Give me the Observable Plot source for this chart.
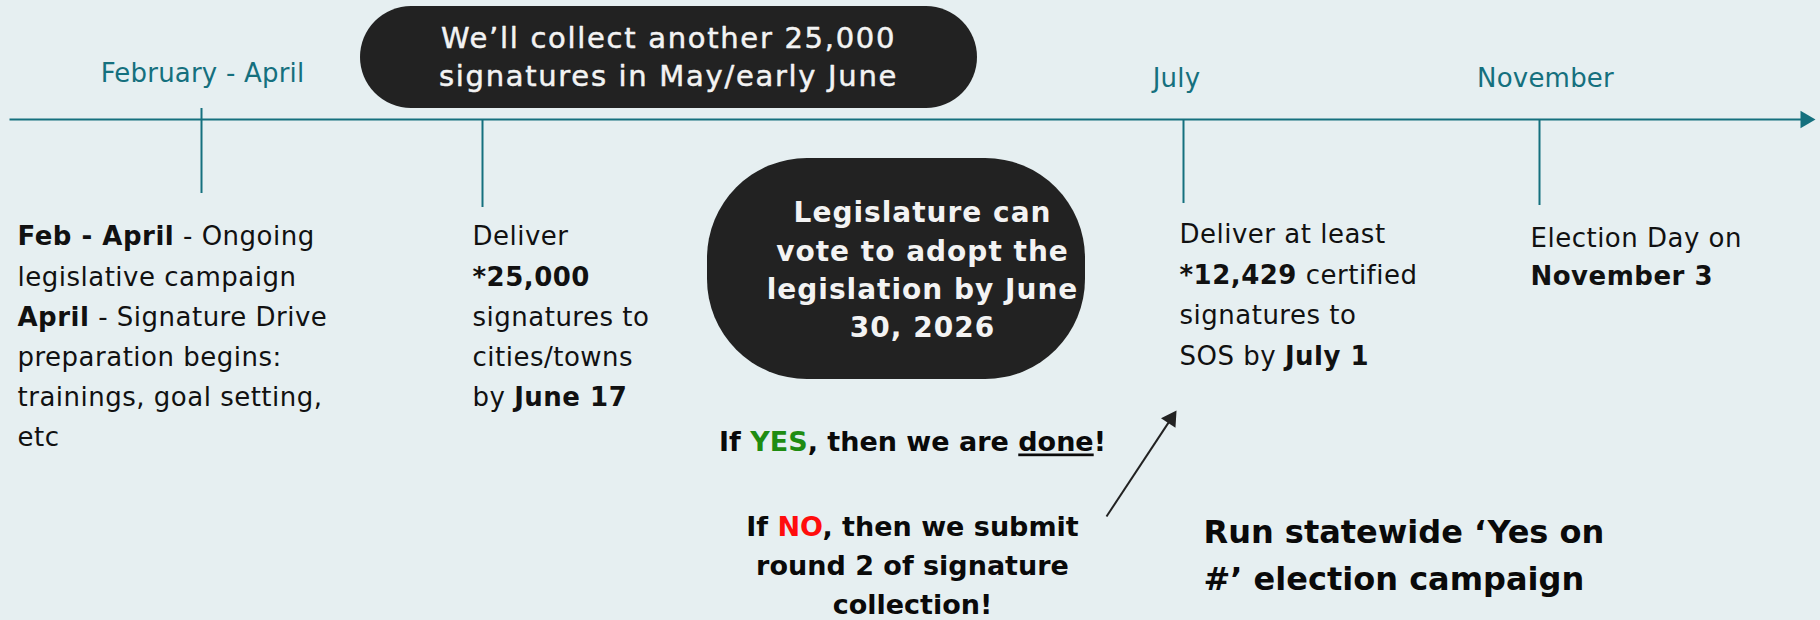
<!DOCTYPE html>
<html><head><meta charset="utf-8">
<script src="https://cdn.jsdelivr.net/npm/d3@7"></script>
<script src="https://cdn.jsdelivr.net/npm/@observablehq/plot@0.6"></script>
<style>
html,body{margin:0;padding:0;background:#e6eff1;}
#chart{width:1820px;height:620px;overflow:hidden}
svg{display:block}
</style></head><body><div id="chart"></div>
<script>
// ---------- data (text content) ----------
const monthLabels = ["February - April", "July", "November"];
const milestoneNotes = [
  "{b:Feb - April} - Ongoing\nlegislative campaign\n{b:April} - Signature Drive\npreparation begins:\ntrainings, goal setting,\netc",
  "Deliver\n{b:*25,000}\nsignatures to\ncities/towns\nby {b:June 17}",
  "Deliver at least\n{b:*12,429} certified\nsignatures to\nSOS by {b:July 1}",
  "Election Day on\n{b:November 3}"
];
const bubbleTexts = [
  "We’ll collect another 25,000\nsignatures in May/early June",
  "Legislature can\nvote to adopt the\nlegislation by {b:June}\n{b:30, 2026}"
];
const outcomeTexts = [
  "If {g:YES}, then we are {u:done}!",
  "If {r:NO}, then we submit\nround 2 of signature\ncollection!"
];
const campaignTexts = ["Run statewide ‘Yes on\n#’ election campaign"];

// ---------- layout (schematic positions, px) ----------
const layout = {
  axis: {x1: 9, x2: 1815, y: 119},
  ticks: {x: [201, 482, 1183, 1539], y1: [108, 119, 119, 119], y2: [193, 207, 203, 205]},
  months: {x: [202, 1176, 1545], base: [81, 86, 86], size: 26},
  notes: {x: [17, 472, 1179, 1530], base: [245, 245, 243, 246.5], size: [26, 26, 26, 26], lh: [40.2, 40.2, 40.5, 37.5]},
  pills: {x1: [360, 707], x2: [977, 1085], y1: [6, 158], y2: [108, 379], r: [51, 100]},
  bubbleText: {x: [668, 922], base: [47.5, 222], size: [29, 28], lh: [38, 38.3], weight: [400, 700]},
  outcomes: {x: [912, 912], base: [451, 536], size: 27, lh: 39},
  campaign: {x: [1203], base: [543], size: 32, lh: 46.5},
  pointer: {x1: 1106, y1: 516, x2: 1176, y2: 410}
};
// letter spacing per text group, in mark order: months, 4 notes, 2 bubbles, 2 outcomes, campaign
const spacing = [0.2, 0.5, 0.5, 0.5, 0.5, 1.7, 1, 0, 0, 0];
const FONT = "DejaVu Sans";
const teal = "#15707e";
const ink = "#111111";
const idx = n => d3.range(n);
// Plot places the first line (lineAnchor top) at 0.71 × lineHeight below y
const topOf = (base, lhPx) => base - 0.71 * lhPx;

function head(x1, y1, x2, y2, len) {
  const dx = x2 - x1, dy = y2 - y1, L = Math.hypot(dx, dy);
  const ux = dx / L, uy = dy / L;
  const h = len / 3;
  return {
    cx: x2 - 2 * h * ux, cy: y2 - 2 * h * uy,
    r: Math.sqrt(h * h * 3 * Math.sqrt(3) / Math.PI),
    rotate: Math.atan2(dx, -dy) * 180 / Math.PI
  };
}
const axisHead = head(layout.axis.x1, layout.axis.y, layout.axis.x2, layout.axis.y, 15);
const ptrHead = head(layout.pointer.x1, layout.pointer.y1, layout.pointer.x2, layout.pointer.y2, 15);

const textMarks = [];
textMarks.push(Plot.text(monthLabels, {
  x: (d, i) => layout.months.x[i], y: (d, i) => topOf(layout.months.base[i], layout.months.size),
  text: d => d, lineAnchor: "top", textAnchor: "middle",
  fontSize: layout.months.size, fontFamily: FONT, fontWeight: 400, fill: teal
}));
milestoneNotes.forEach((t, i) => {
  const L = layout.notes;
  textMarks.push(Plot.text([t], {
    x: () => L.x[i], y: () => topOf(L.base[i], L.lh[i]),
    text: d => d, lineAnchor: "top", textAnchor: "start",
    fontSize: L.size[i], lineHeight: L.lh[i] / L.size[i],
    fontFamily: FONT, fontWeight: 400, fill: ink
  }));
});
bubbleTexts.forEach((t, i) => {
  const L = layout.bubbleText;
  textMarks.push(Plot.text([t], {
    x: () => L.x[i], y: () => topOf(L.base[i], L.lh[i]),
    text: d => d, lineAnchor: "top", textAnchor: "middle",
    fontSize: L.size[i], lineHeight: L.lh[i] / L.size[i],
    fontFamily: FONT, fontWeight: L.weight[i], fill: "#f3f3f3",
    stroke: i === 0 ? "#f3f3f3" : "none", strokeWidth: 0.5
  }));
});
outcomeTexts.forEach((t, i) => {
  const L = layout.outcomes;
  textMarks.push(Plot.text([t], {
    x: () => L.x[i], y: () => topOf(L.base[i], L.lh),
    text: d => d, lineAnchor: "top", textAnchor: "middle",
    fontSize: L.size, lineHeight: L.lh / L.size,
    fontFamily: FONT, fontWeight: 700, fill: "#0a0a0a"
  }));
});
textMarks.push(Plot.text(campaignTexts, {
  x: (d, i) => layout.campaign.x[i], y: (d, i) => topOf(layout.campaign.base[i], layout.campaign.lh),
  text: d => d, lineAnchor: "top", textAnchor: "start",
  fontSize: layout.campaign.size, lineHeight: layout.campaign.lh / layout.campaign.size,
  fontFamily: FONT, fontWeight: 700, fill: "#0a0a0a"
}));

const chart = Plot.plot({
  width: 1820, height: 620,
  margin: 0,
  x: {domain: [0, 1820], range: [0, 1820], axis: null},
  y: {domain: [0, 620], range: [0, 620], axis: null},
  style: {background: "#e6eff1", fontFamily: FONT},
  marks: [
    Plot.link([0], {x1: layout.axis.x1, x2: axisHead.cx, y1: layout.axis.y, y2: layout.axis.y, stroke: teal, strokeWidth: 2.2}),
    Plot.dot([0], {x: axisHead.cx, y: axisHead.cy, r: axisHead.r, symbol: "triangle", rotate: axisHead.rotate, fill: teal, stroke: "none"}),
    Plot.ruleX(idx(4), {x: i => layout.ticks.x[i], y1: i => layout.ticks.y1[i], y2: i => layout.ticks.y2[i], stroke: teal, strokeWidth: 2}),
    Plot.rect([0], {x1: layout.pills.x1[0], x2: layout.pills.x2[0], y1: layout.pills.y1[0], y2: layout.pills.y2[0], rx: layout.pills.r[0], fill: "#222222"}),
    Plot.rect([1], {x1: layout.pills.x1[1], x2: layout.pills.x2[1], y1: layout.pills.y1[1], y2: layout.pills.y2[1], rx: layout.pills.r[1], fill: "#222222"}),
    Plot.link([0], {x1: layout.pointer.x1, y1: layout.pointer.y1, x2: ptrHead.cx, y2: ptrHead.cy, stroke: "#222", strokeWidth: 2}),
    Plot.dot([0], {x: ptrHead.cx, y: ptrHead.cy, r: ptrHead.r, symbol: "triangle", rotate: ptrHead.rotate, fill: "#222", stroke: "none"}),
    ...textMarks
  ]
});

const styles = {
  b: el => el.setAttribute("font-weight", 700),
  g: el => el.setAttribute("fill", "#1f8c12"),
  r: el => el.setAttribute("fill", "#ff0d0d"),
  u: el => el.setAttribute("text-decoration", "underline")
};
function enrich(node) {
  const s = node.textContent;
  if (!s.includes("{")) return;
  while (node.firstChild) node.removeChild(node.firstChild);
  const re = /\{([bgru]):([^}]*)\}/g;
  let last = 0, m;
  while ((m = re.exec(s))) {
    if (m.index > last) node.appendChild(document.createTextNode(s.slice(last, m.index)));
    const t = document.createElementNS("http://www.w3.org/2000/svg", "tspan");
    t.textContent = m[2];
    styles[m[1]](t);
    node.appendChild(t);
    last = re.lastIndex;
  }
  if (last < s.length) node.appendChild(document.createTextNode(s.slice(last)));
}
chart.querySelectorAll("text").forEach(t => {
  const spans = t.querySelectorAll("tspan");
  if (spans.length) spans.forEach(enrich); else enrich(t);
});
chart.querySelectorAll('g[aria-label="text"]').forEach((g, i) => {
  if (spacing[i]) g.setAttribute("letter-spacing", spacing[i]);
});
document.getElementById("chart").appendChild(chart);
</script>
</body></html>
